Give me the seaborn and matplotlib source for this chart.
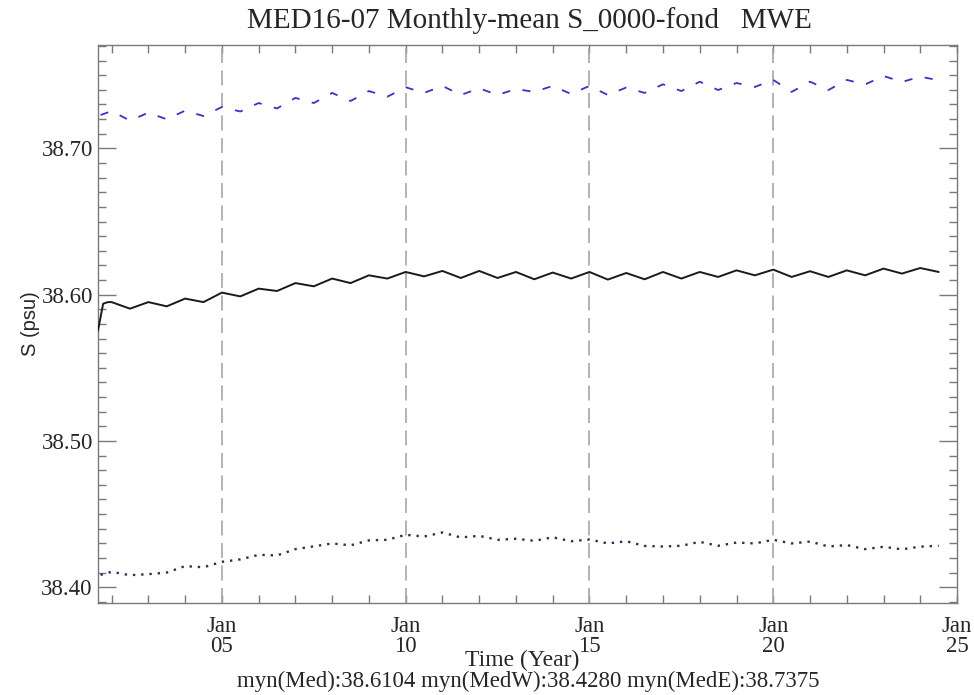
import matplotlib
matplotlib.use("Agg")
import matplotlib.pyplot as plt
import matplotlib.ticker as mticker
import seaborn as sns
import pandas as pd

# sample times (decimal years): January and July of each year
TIME = [2002.0, 2002.5, 2003.0, 2003.5, 2004.0, 2004.5, 2005.0, 2005.5,
        2006.0, 2006.5, 2007.0, 2007.5, 2008.0, 2008.5, 2009.0, 2009.5,
        2010.0, 2010.5, 2011.0, 2011.5, 2012.0, 2012.5, 2013.0, 2013.5,
        2014.0, 2014.5, 2015.0, 2015.5, 2016.0, 2016.5, 2017.0, 2017.5,
        2018.0, 2018.5, 2019.0, 2019.5, 2020.0, 2020.5, 2021.0, 2021.5,
        2022.0, 2022.5, 2023.0, 2023.5, 2024.0, 2024.5]

# whole Mediterranean (solid black)
MED_START_T = [2001.63, 2001.77, 2001.90]
MED_START_S = [38.5755, 38.5938, 38.5949]
MED = [38.5949, 38.5904, 38.5949, 38.5920, 38.5973, 38.5949, 38.6014, 38.5988, 38.6041, 38.6025,
       38.6079, 38.6057, 38.6110, 38.6079, 38.6132, 38.6110, 38.6155, 38.6125, 38.6162, 38.6114,
       38.6162, 38.6114, 38.6155, 38.6105, 38.6151, 38.6110, 38.6155, 38.6103, 38.6148, 38.6105,
       38.6155, 38.6110, 38.6155, 38.6121, 38.6166, 38.6132, 38.6171, 38.6121, 38.6160, 38.6121,
       38.6166, 38.6132, 38.6178, 38.6144, 38.6182, 38.6155]

# eastern basin (blue dashed), ends a bit earlier
MEDE_START_T = [2001.70]
MEDE_START_S = [38.7228]
MEDE = [38.7255, 38.7190, 38.7244, 38.7199, 38.7258, 38.7221, 38.7283, 38.7252, 38.7310, 38.7273,
        38.7345, 38.7310, 38.7379, 38.7324, 38.7392, 38.7353, 38.7418, 38.7379, 38.7427, 38.7365,
        38.7411, 38.7365, 38.7406, 38.7386, 38.7427, 38.7372, 38.7427, 38.7365, 38.7416, 38.7379,
        38.7438, 38.7392, 38.7456, 38.7399, 38.7447, 38.7420, 38.7468, 38.7386, 38.7456, 38.7399,
        38.7468, 38.7437, 38.7495, 38.7454, 38.7490]
MEDE_END_T = [2024.35]
MEDE_END_S = [38.7473]

# western basin (purple dotted)
MEDW_START_T = [2001.70]
MEDW_START_S = [38.4084]
MEDW = [38.4105, 38.4082, 38.4089, 38.4100, 38.4144, 38.4136, 38.4173, 38.4190, 38.4221, 38.4217,
        38.4260, 38.4279, 38.4299, 38.4286, 38.4320, 38.4324, 38.4358, 38.4346, 38.4374, 38.4340,
        38.4351, 38.4324, 38.4331, 38.4317, 38.4341, 38.4314, 38.4326, 38.4299, 38.4314, 38.4282,
        38.4278, 38.4283, 38.4310, 38.4283, 38.4305, 38.4299, 38.4324, 38.4299, 38.4312, 38.4278,
        38.4288, 38.4260, 38.4276, 38.4259, 38.4277, 38.4283]

GRID_YEARS = [2005, 2010, 2015, 2020]
XTICK_YEARS = [2005, 2010, 2015, 2020, 2025]
YTICKS = [38.40, 38.50, 38.60, 38.70]

TITLE = "MED16-07 Monthly-mean S_0000-fond   MWE"
FOOTER = "myn(Med):38.6104 myn(MedW):38.4280 myn(MedE):38.7375"

AXIS_GREY = "#7a7a7a"


def build_frame():
    med = pd.DataFrame({"time": MED_START_T + TIME, "S": MED_START_S + MED})
    mede = pd.DataFrame({"time": MEDE_START_T + TIME[:-1] + MEDE_END_T,
                         "S": MEDE_START_S + MEDE + MEDE_END_S})
    medw = pd.DataFrame({"time": MEDW_START_T + TIME, "S": MEDW_START_S + MEDW})
    med["region"] = "Med"; mede["region"] = "MedE"; medw["region"] = "MedW"
    return pd.concat([med, mede, medw], ignore_index=True)


sns.set_style("ticks")
plt.rcParams["font.family"] = ["Liberation Serif", "DejaVu Serif"]

df = build_frame()

fig = plt.figure(figsize=(9.74, 6.95), dpi=100)
ax = fig.add_axes([0.101, 0.132, 0.8816, 0.8033])

for yr in GRID_YEARS:
    ax.axvline(yr, color="#a5a5a5", linewidth=1.2, linestyle=(0, (9, 4.5)), zorder=1)

sns.lineplot(data=df[df.region == "Med"], x="time", y="S", ax=ax, sort=False,
             estimator=None, color="#1a1a1a", linewidth=1.4, zorder=3,
             solid_joinstyle="round")
sns.lineplot(data=df[df.region == "MedE"], x="time", y="S", ax=ax, sort=False,
             estimator=None, color="#3d2fcf", linewidth=1.3,
             linestyle=(0, (4.5, 7.0)), zorder=3)
sns.lineplot(data=df[df.region == "MedW"], x="time", y="S", ax=ax, sort=False,
             estimator=None, color="#4a1f55", linewidth=1.7,
             linestyle=(0, (1, 2.5)), zorder=3)

ax.set_xlim(2001.64, 2025.0)
ax.set_ylim(38.389, 38.7707)

ax.set_xticks(XTICK_YEARS)
ax.set_xticklabels([f"Jan\n{y % 100:02d}" for y in XTICK_YEARS], fontsize=16.5)
ax.xaxis.set_minor_locator(mticker.MultipleLocator(1))
ax.set_yticks(YTICKS)
ax.set_yticklabels([f"{v:.2f}" for v in YTICKS], fontsize=16.5)
ax.yaxis.set_minor_locator(mticker.MultipleLocator(0.01))
for lbl in ax.get_xticklabels():
    lbl.set_linespacing(0.95)

ax.tick_params(axis="x", which="both", direction="in", top=True, bottom=True,
               length=6, width=1.0, color=AXIS_GREY, pad=9)
ax.tick_params(axis="y", which="major", direction="in", left=True, right=True,
               length=13, width=1.0, color=AXIS_GREY, pad=4)
ax.tick_params(axis="y", which="minor", direction="in", left=True, right=True,
               length=5.5, width=1.0, color=AXIS_GREY)
for sp in ax.spines.values():
    sp.set_color(AXIS_GREY); sp.set_linewidth(1.0)

ax.set_xlabel(""); ax.set_ylabel("")
fig.text(0.031, 0.535, "S (psu)", rotation=90, ha="center", va="center",
         fontsize=14.5, family=["Liberation Sans", "DejaVu Sans"])
fig.text(0.544, 0.971, TITLE, ha="center", va="center", fontsize=21)
fig.text(0.536, 0.049, "Time (Year)", ha="center", va="center", fontsize=17)
fig.text(0.542, 0.020, FOOTER, ha="center", va="center", fontsize=16.5)

fig.savefig("out.png", dpi=100)
plt.close(fig)
